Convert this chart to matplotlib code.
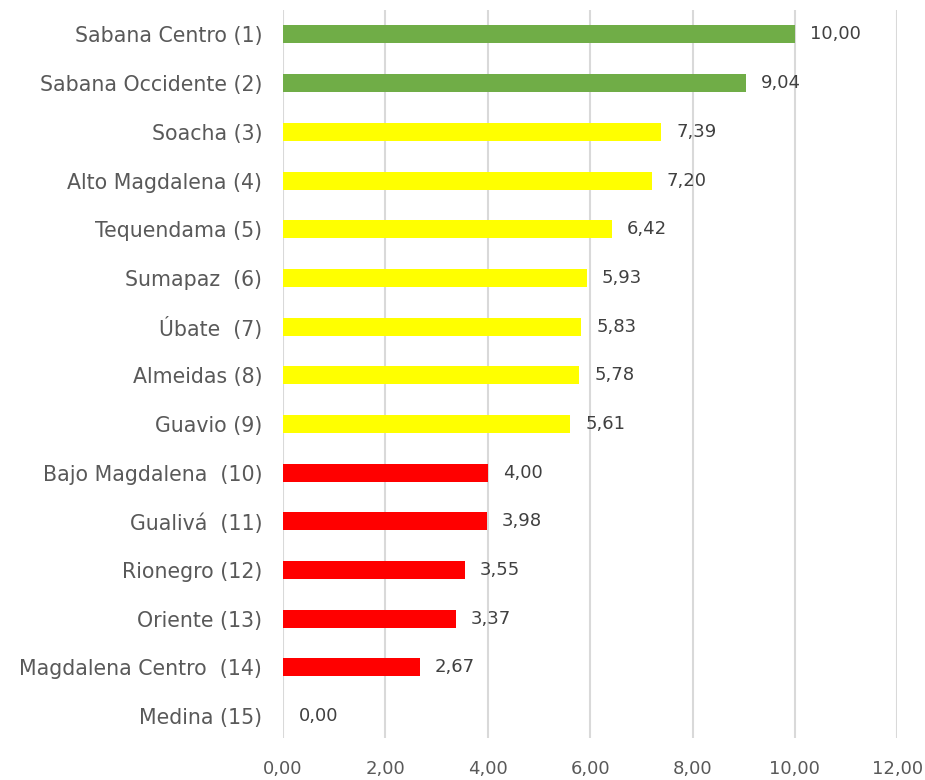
import matplotlib.pyplot as plt
import numpy as np

# datos
regiones = ["Sabana Centro (1)", "Sabana Occidente (2)", "Soacha (3)", "Alto Magdalena (4)",
            "Tequendama (5)", "Sumapaz  (6)", "Úbate  (7)", "Almeidas (8)", "Guavio (9)",
            "Bajo Magdalena  (10)", "Gualivá  (11)", "Rionegro (12)", "Oriente (13)",
            "Magdalena Centro  (14)", "Medina (15)"]
valores = [10.00, 9.04, 7.39, 7.20, 6.42, 5.93, 5.83, 5.78, 5.61, 4.00, 3.98, 3.55, 3.37, 2.67, 0.00]
colores = ["#70AD47"] * 2 + ["#FFFF00"] * 7 + ["#FF0000"] * 6
ticks_x = [0, 2, 4, 6, 8, 10, 12]

plt.rcParams['font.family'] = ['DejaVu Sans']

fig = plt.figure(figsize=(9.25, 7.8), dpi=100)
ax = fig.add_axes([0.306, 0.054, 0.664, 0.933])

y = np.arange(len(regiones))
ax.barh(y, valores, height=0.37, color=colores, zorder=3)

# etiquetas de valor
for yi, v in zip(y, valores):
    ax.text(v + 0.3, yi, f"{v:.2f}".replace(".", ","), va="center", ha="left",
            fontsize=13, color="#404040")

ax.set_xlim(0, 12)
ax.set_ylim(14.45, -0.5)
ax.set_xticks(ticks_x)
ax.set_xticklabels([f"{t:.2f}".replace(".", ",") for t in ticks_x])
ax.set_yticks(y)
ax.set_yticklabels(regiones)
ax.tick_params(axis="both", length=0, colors="#595959")
ax.tick_params(axis="x", pad=16, labelsize=13)
ax.tick_params(axis="y", pad=15, labelsize=14.8)
ax.grid(axis="x", color="#D9D9D9", linewidth=1.5, zorder=0)
for s in ax.spines.values():
    s.set_visible(False)

plt.savefig("out.png")
plt.close()
